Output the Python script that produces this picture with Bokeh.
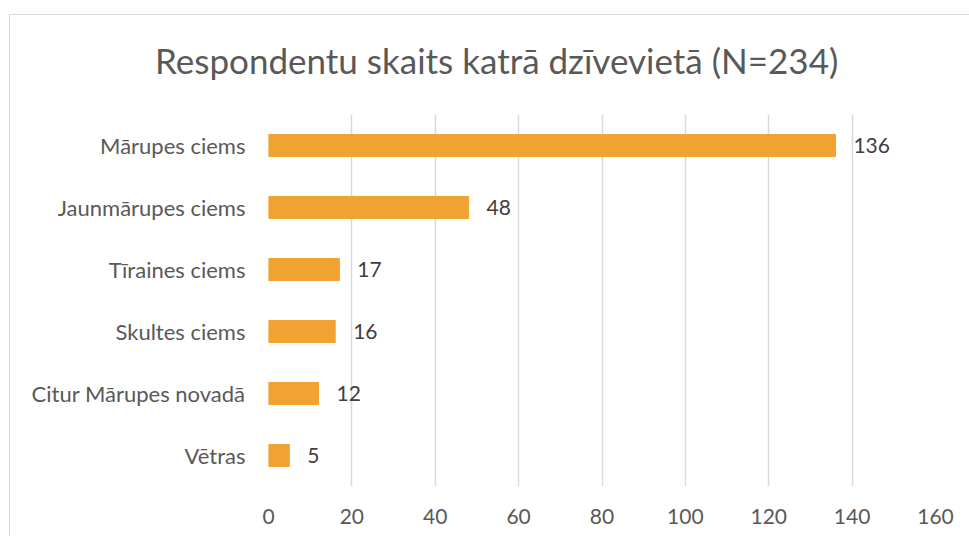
from bokeh.plotting import figure
from bokeh.models import ColumnDataSource, FixedTicker, LabelSet, Div
from bokeh.layouts import column
from bokeh.core.properties import value
from bokeh.embed import file_html
from bokeh.resources import INLINE

categories = ["Mārupes ciems", "Jaunmārupes ciems", "Tīraines ciems", "Skultes ciems", "Citur Mārupes novadā", "Vētras"]
counts = [136, 48, 17, 16, 12, 5]
x_ticks = [0, 20, 40, 60, 80, 100, 120, 140, 160]
title_text = "Respondentu skaits katrā dzīvevietā (N=234)"

FONT = "Lato"
src = ColumnDataSource(dict(cat=categories, val=counts, lab=[str(c) for c in counts]))

title_div = Div(
    text=('<div style="font-family: Lato; font-size: 35px; color: #595959; '
          'line-height: 44px; padding-top: 23px; padding-left: 145px; '
          'white-space: nowrap; text-align: left; margin: 0;">' + title_text + '</div>'),
    width=959, height=94, margin=(0, 0, 0, 0))

p = figure(width=959, height=427, output_backend="svg", toolbar_location=None,
           y_range=list(reversed(categories)), x_range=(0, 160),
           min_border_left=258, min_border_right=34, min_border_bottom=50, min_border_top=5)

p.hbar(y="cat", right="val", left=0, height=0.355, source=src, color="#F0A330")

labels = LabelSet(x="val", y="cat", text="lab", source=src, x_offset=18, y_offset=0,
                  text_baseline="middle", text_font=value(FONT), text_font_size="21px",
                  text_color="#404040")
p.add_layout(labels)

p.outline_line_color = None
p.ygrid.grid_line_color = None
p.xgrid.grid_line_color = "#d9d9d9"
p.xgrid.grid_line_width = 1.5
p.xaxis.ticker = FixedTicker(ticks=x_ticks)

for ax in (p.xaxis, p.yaxis):
    ax.axis_line_color = None
    ax.major_tick_line_color = None
    ax.minor_tick_line_color = None
    ax.major_label_text_font = FONT
    ax.major_label_text_color = "#595959"
p.xaxis.major_label_text_font_size = "21px"
p.yaxis.major_label_text_font_size = "22px"
p.xaxis.major_label_standoff = 16
p.yaxis.major_label_standoff = 17

layout = column(title_div, p, spacing=0)
layout.styles = {"border-left": "1px solid #d9d9d9", "border-top": "1px solid #d9d9d9",
                 "margin-left": "9px", "margin-top": "14px"}

open("out.html", "w").write(file_html(layout, INLINE))
